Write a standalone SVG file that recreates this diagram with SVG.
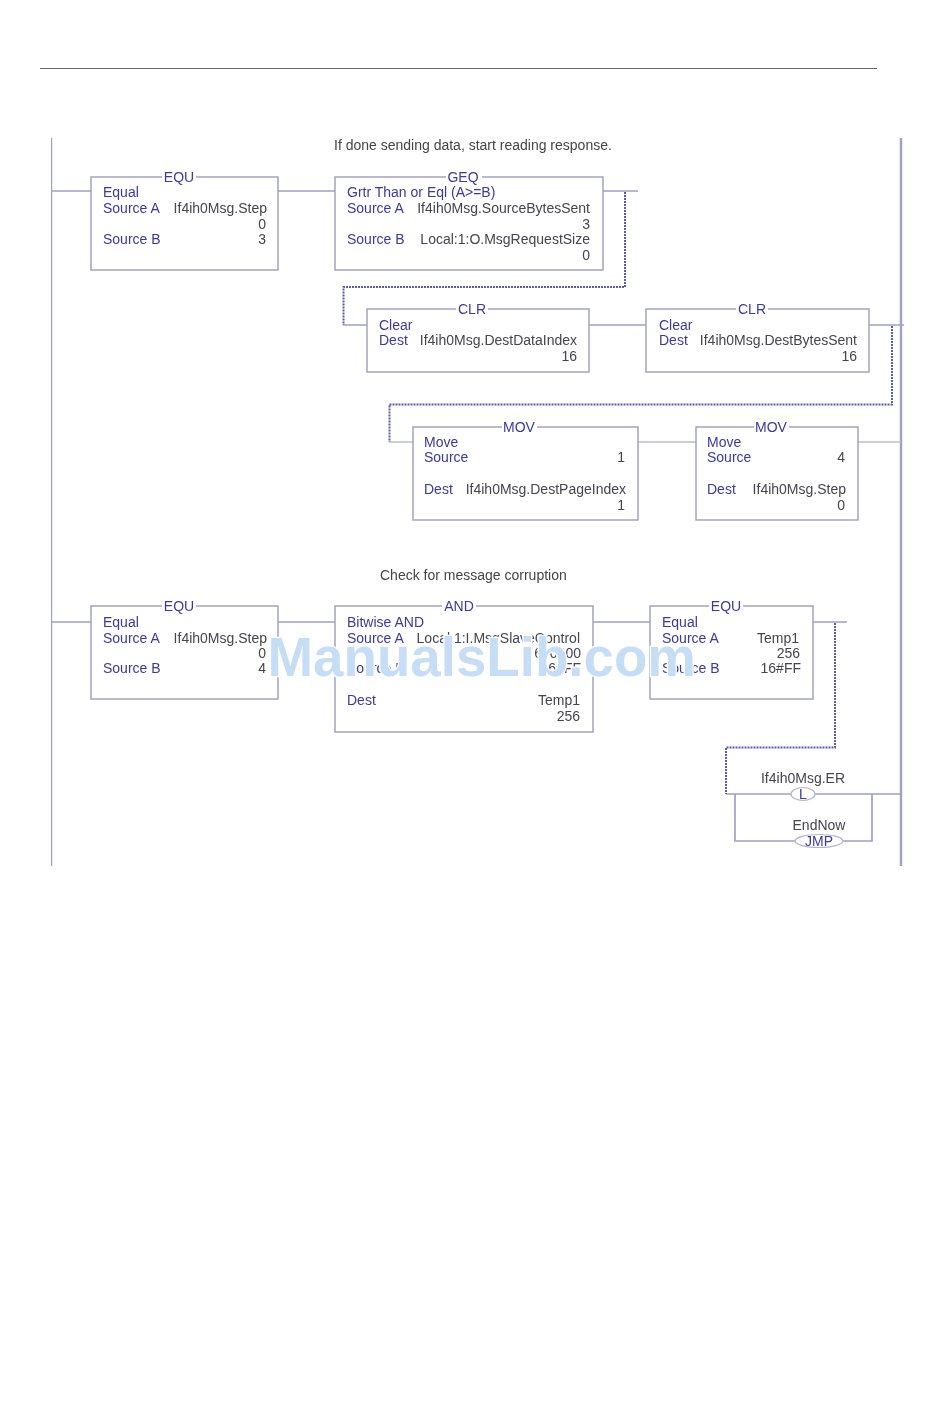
<svg xmlns="http://www.w3.org/2000/svg" width="950" height="1420" viewBox="0 0 950 1420">
<defs><filter id="soft" x="0" y="0" width="100%" height="100%"><feGaussianBlur stdDeviation="0.35"/></filter></defs>
<style>
text{font-family:"Liberation Sans",Arial,sans-serif;font-size:14px}
.l{fill:#3a38a0}
.v{fill:#44444f}
.r{text-anchor:end}
.m{text-anchor:middle}
.c{fill:#444}
.b{fill:#fff;stroke:#a3a2c2;stroke-width:1.500}
.w{fill:none;stroke:#a09ecb;stroke-width:1.700}
.g{fill:none;stroke:#bdbcd2;stroke-width:1.700}
.d{fill:none;stroke:#5d5aa8;stroke-width:2;stroke-dasharray:2 1}
.t{fill:#fff;stroke:none}
.wm{font-size:54.700px;font-weight:bold;fill:#c6ddf6;stroke:#fff;stroke-width:2.500px;paint-order:stroke}
</style>
<rect width="950" height="1420" fill="#fff"/>
<path d="M40 68.500H877" stroke="#666" stroke-width="1" fill="none"/>
<g filter="url(#soft)">
<g id="connectors">
<path class="w" style="stroke-width:2.400" d="M51 138V866M901 138V866"/>
<path class="w" d="M51 191H91M278 191H335M603 191H638M343 325H367M589 325H646M869 325H904M51 622H91M278 622H335M593 622H650M813 622H847M726 794H901M735 794V841H872V794"/>
<path class="g" d="M389 442H413M638 442H696M858 442H901"/>
<path class="d" d="M625 192V287H343.500V325M892 326V404.500H389.500V442M835 623V747.500H726V794"/>
</g>
<g id="note1"><text class="c" x="334" y="150">If done sending data, start reading response.</text></g>
<g id="equ1"><rect class="b" x="91" y="177" width="187" height="93"/><rect class="t" x="162" y="170" width="34" height="14"/><text class="l m" x="179" y="182">EQU</text><text class="l" x="103" y="197">Equal</text><text class="l" x="103" y="213">Source A</text><text class="v r" x="267" y="213">If4ih0Msg.Step</text><text class="v r" x="266" y="229">0</text><text class="l" x="103" y="244">Source B</text><text class="v r" x="266" y="244">3</text></g>
<g id="geq1"><rect class="b" x="335" y="177" width="268" height="93"/><rect class="t" x="446" y="170" width="36" height="14"/><text class="l m" x="463" y="182">GEQ</text><text class="l" x="347" y="197">Grtr Than or Eql (A&gt;=B)</text><text class="l" x="347" y="213">Source A</text><text class="v r" x="590" y="213">If4ih0Msg.SourceBytesSent</text><text class="v r" x="590" y="229">3</text><text class="l" x="347" y="244">Source B</text><text class="v r" x="590" y="244">Local:1:O.MsgRequestSize</text><text class="v r" x="590" y="260">0</text></g>
<g id="clr1"><rect class="b" x="367" y="309" width="222" height="63"/><rect class="t" x="456" y="302" width="32" height="14"/><text class="l m" x="472" y="314">CLR</text><text class="l" x="379" y="330">Clear</text><text class="l" x="379" y="345">Dest</text><text class="v r" x="577" y="345">If4ih0Msg.DestDataIndex</text><text class="v r" x="577" y="361">16</text></g>
<g id="clr2"><rect class="b" x="646" y="309" width="223" height="63"/><rect class="t" x="736" y="302" width="32" height="14"/><text class="l m" x="752" y="314">CLR</text><text class="l" x="659" y="330">Clear</text><text class="l" x="659" y="345">Dest</text><text class="v r" x="857" y="345">If4ih0Msg.DestBytesSent</text><text class="v r" x="857" y="361">16</text></g>
<g id="mov1"><rect class="b" x="413" y="427" width="225" height="93"/><rect class="t" x="502" y="420" width="35" height="14"/><text class="l m" x="519" y="432">MOV</text><text class="l" x="424" y="447">Move</text><text class="l" x="424" y="462">Source</text><text class="v r" x="625" y="462">1</text><text class="l" x="424" y="494">Dest</text><text class="v r" x="626" y="494">If4ih0Msg.DestPageIndex</text><text class="v r" x="625" y="510">1</text></g>
<g id="mov2"><rect class="b" x="696" y="427" width="162" height="93"/><rect class="t" x="754" y="420" width="35" height="14"/><text class="l m" x="771" y="432">MOV</text><text class="l" x="707" y="447">Move</text><text class="l" x="707" y="462">Source</text><text class="v r" x="845" y="462">4</text><text class="l" x="707" y="494">Dest</text><text class="v r" x="846" y="494">If4ih0Msg.Step</text><text class="v r" x="845" y="510">0</text></g>
<g id="note2"><text class="c" x="380" y="580">Check for message corruption</text></g>
<g id="equ2"><rect class="b" x="91" y="606" width="187" height="93"/><rect class="t" x="162" y="599" width="34" height="14"/><text class="l m" x="179" y="611">EQU</text><text class="l" x="103" y="627">Equal</text><text class="l" x="103" y="643">Source A</text><text class="v r" x="267" y="643">If4ih0Msg.Step</text><text class="v r" x="266" y="658">0</text><text class="l" x="103" y="673">Source B</text><text class="v r" x="266" y="673">4</text></g>
<g id="and1"><rect class="b" x="335" y="606" width="258" height="126"/><rect class="t" x="442" y="599" width="34" height="14"/><text class="l m" x="459" y="611">AND</text><text class="l" x="347" y="627">Bitwise AND</text><text class="l" x="347" y="643">Source A</text><text class="v r" x="580" y="643">Local:1:I.MsgSlaveControl</text><text class="v r" x="581" y="658">6#0000</text><text class="l" x="347" y="673">Source B</text><text class="v r" x="581" y="673">16#FF</text><text class="l" x="347" y="705">Dest</text><text class="v r" x="580" y="705">Temp1</text><text class="v r" x="580" y="721">256</text></g>
<g id="equ3"><rect class="b" x="650" y="606" width="163" height="93"/><rect class="t" x="709" y="599" width="34" height="14"/><text class="l m" x="726" y="611">EQU</text><text class="l" x="662" y="627">Equal</text><text class="l" x="662" y="643">Source A</text><text class="v r" x="799" y="643">Temp1</text><text class="v r" x="800" y="658">256</text><text class="l" x="662" y="673">Source B</text><text class="v r" x="801" y="673">16#FF</text></g>
<g id="latch"><text class="v m" x="803" y="783">If4ih0Msg.ER</text><ellipse cx="803" cy="794" rx="12" ry="6.500" fill="#fff" stroke="#b4b3cc" stroke-width="1.200"/><text class="l m" x="803" y="799">L</text></g>
<g id="jmp"><text class="v m" x="819" y="830">EndNow</text><ellipse cx="819" cy="841" rx="24" ry="6.500" fill="#fff" stroke="#b4b3cc" stroke-width="1.200"/><text class="l m" x="819" y="846">JMP</text></g>
<g id="watermark"><text class="wm" x="267.500" y="676">ManualsLib.com</text></g>
</g>
</svg>
